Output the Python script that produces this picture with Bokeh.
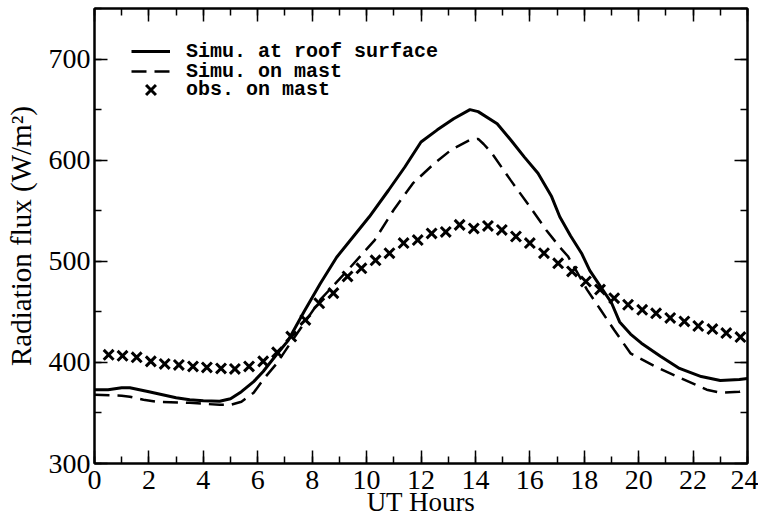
from bokeh.plotting import figure
from bokeh.models import (LinearAxis, SingleIntervalTicker, Legend, LegendItem,
                          Range1d)
from bokeh.embed import file_html
from bokeh.resources import INLINE

# ---------------- data ----------------
roof_hours = [0, 0.5, 1.0, 1.3, 2.0, 2.5, 3.0, 3.5, 4.0, 4.6, 5.0, 5.4, 5.85,
              6.2, 6.7, 7.1, 7.7, 8.3, 8.9, 9.5, 10.1, 10.8, 11.4, 12.0, 12.6,
              13.2, 13.8, 14.1, 14.8, 15.3, 15.8, 16.3, 16.8, 17.1, 17.5, 17.9,
              18.2, 18.6, 19.0, 19.3, 19.7, 20.1, 20.8, 21.5, 22.3, 23.0, 23.7,
              24.0]
roof_flux = [373, 373, 375, 375, 371, 368, 365, 363, 362, 361.5, 364, 371, 381,
             391, 408, 421, 450, 478, 504, 524, 544, 570, 593, 618, 630,
             641, 650, 648, 636, 620, 603, 587, 564, 544, 525, 508,
             491, 475, 459, 440, 428, 419, 406, 394, 386, 382, 383,
             384]

mast_hours = [0, 1.0, 1.3, 1.8, 2.3, 3.5, 4.6, 5.0, 5.4, 5.85, 6.2, 6.7, 7.2,
              8.3, 9.3, 10.3, 11.0, 11.7, 12.5, 13.1, 13.8, 14.1, 14.3, 14.6,
              15.3, 16.0, 16.6, 17.1, 17.4, 18.1, 18.6, 19.1, 19.7, 20.6, 21.5,
              22.5, 23.0, 23.7, 24.0]
mast_flux = [368, 367, 366, 363, 361, 360, 358, 358, 361, 370, 383, 399, 419,
             462, 491, 521, 551, 577, 597, 610, 620, 621, 616, 607,
             580, 554, 531, 514, 505, 472, 452, 432, 409, 396, 385,
             373, 370, 371, 374]

obs_hours = [0.52, 1.03, 1.55, 2.07, 2.58, 3.10, 3.62, 4.13, 4.65, 5.16, 5.68,
             6.20, 6.71, 7.23, 7.75, 8.26, 8.78, 9.30, 9.81, 10.33, 10.84,
             11.36, 11.88, 12.39, 12.91, 13.42, 13.94, 14.46, 14.97, 15.49,
             16.00, 16.52, 17.04, 17.55, 18.06, 18.58, 19.10, 19.61, 20.13,
             20.64, 21.16, 21.68, 22.19, 22.71, 23.22, 23.74]
obs_flux = [407.5, 406.5, 405, 401, 398.5, 397.5, 396, 395, 394, 393.5, 396,
            401, 410, 425.5, 442, 458.5, 468.5, 485, 493, 501, 508,
            518, 521, 527.5, 529, 536, 532.5, 535, 531, 524.5,
            518, 508, 498, 490, 480, 472, 463.5, 457, 452,
            448.5, 444, 440.5, 436, 433, 429, 425]

series_labels = ["Simu. at roof surface", "Simu. on mast", "obs. on mast"]
x_label = "UT Hours"
y_label = "Radiation flux (W/m\u00b2)"
x_limits = (0, 24)
y_limits = (300, 750)

# ---------------- figure ----------------
p = figure(width=758, height=519, x_range=Range1d(*x_limits),
           y_range=Range1d(*y_limits), output_backend="svg",
           toolbar_location=None, min_border_left=94, min_border_right=11,
           min_border_top=8, min_border_bottom=55)
p.xaxis.visible = False
p.yaxis.visible = False
p.grid.visible = False
p.outline_line_color = "black"
p.outline_line_width = 2
p.background_fill_color = "white"
p.border_fill_color = "white"

serif = "Liberation Serif"


def style_axis(ax, show_labels):
    ax.axis_line_width = 2
    ax.axis_line_color = "black"
    ax.major_tick_in = 13
    ax.major_tick_out = 0
    ax.minor_tick_in = 7
    ax.minor_tick_out = 0
    ax.major_tick_line_width = 1.5
    ax.minor_tick_line_width = 1.5
    ax.major_tick_line_color = "black"
    ax.minor_tick_line_color = "black"
    ax.major_label_text_font = serif
    ax.major_label_text_color = "black"
    ax.axis_label_text_font = serif
    ax.axis_label_text_font_style = "normal"
    ax.axis_label_text_color = "black"
    if show_labels:
        ax.major_label_text_font_size = "28px"
    else:
        ax.major_label_text_font_size = "0px"
        ax.major_label_standoff = 0


xb = LinearAxis(ticker=SingleIntervalTicker(interval=2, num_minor_ticks=2),
                axis_label=x_label)
style_axis(xb, True)
xb.major_label_standoff = 7
xb.axis_label_text_font_size = "27px"
xb.axis_label_standoff = -5
p.add_layout(xb, "below")

yl = LinearAxis(ticker=SingleIntervalTicker(interval=100, num_minor_ticks=2),
                axis_label=y_label)
style_axis(yl, True)
yl.major_label_standoff = 4
yl.axis_label_text_font_size = "29px"
yl.axis_label_standoff = 9
p.add_layout(yl, "left")

xa = LinearAxis(ticker=SingleIntervalTicker(interval=2, num_minor_ticks=2))
style_axis(xa, False)
p.add_layout(xa, "above")

yr = LinearAxis(ticker=SingleIntervalTicker(interval=100, num_minor_ticks=2))
style_axis(yr, False)
p.add_layout(yr, "right")

# ---------------- data marks ----------------
r_roof = p.line(roof_hours, roof_flux, line_color="black", line_width=3)
r_mast = p.line(mast_hours, mast_flux, line_color="black", line_width=2.5,
                line_dash="15 8")
r_obs = p.scatter(obs_hours, obs_flux, marker="x", size=14,
                  line_color="black", line_width=3)


def make_legend(label, renderer, loc, row_h):
    lg = Legend(items=[LegendItem(label=label, renderers=[renderer])],
                location=loc)
    lg.label_text_font = "Liberation Mono"
    lg.label_text_font_style = "bold"
    lg.label_text_font_size = "20px"
    lg.label_text_color = "black"
    lg.label_height = row_h
    lg.glyph_height = row_h
    lg.glyph_width = 39
    lg.label_standoff = 16
    lg.spacing = 0
    lg.padding = 0
    lg.margin = 0
    lg.border_line_alpha = 0
    lg.background_fill_alpha = 0
    return lg


p.add_layout(make_legend(series_labels[0], r_roof, (37, 397), 30), "center")
p.add_layout(make_legend(series_labels[1], r_mast, (37, 377), 30), "center")
p.add_layout(make_legend(series_labels[2], r_obs, (37, 356), 35), "center")

open("out.html", "w").write(file_html(p, INLINE))
